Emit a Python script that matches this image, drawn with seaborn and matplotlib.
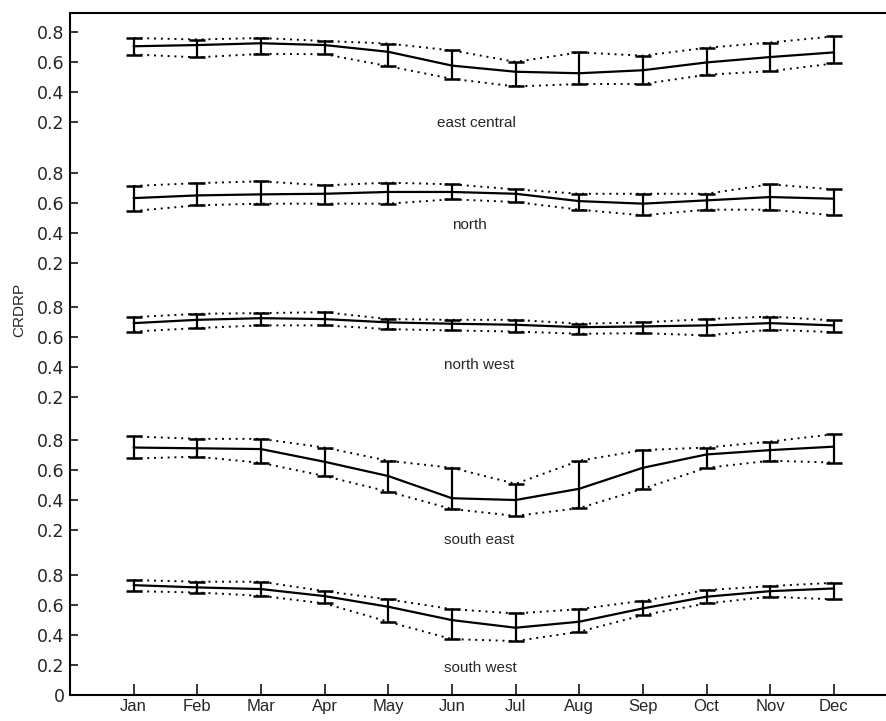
import numpy as np
import pandas as pd
import matplotlib
matplotlib.use("Agg")
import matplotlib.pyplot as plt
import seaborn as sns

months = ['Jan', 'Feb', 'Mar', 'Apr', 'May', 'Jun', 'Jul', 'Aug', 'Sep', 'Oct', 'Nov', 'Dec']
regions = ['east central', 'north', 'north west', 'south east', 'south west']

# mean CRDRP per month, and the lower / upper ends of the bars
ec_mean = [0.708, 0.716, 0.728, 0.716, 0.671, 0.579, 0.538, 0.528, 0.548, 0.600, 0.636, 0.667]
ec_low = [0.653, 0.634, 0.657, 0.655, 0.575, 0.491, 0.440, 0.456, 0.456, 0.518, 0.542, 0.593]
ec_high = [0.763, 0.753, 0.763, 0.743, 0.726, 0.680, 0.604, 0.667, 0.645, 0.698, 0.733, 0.774]

n_mean = [0.635, 0.653, 0.660, 0.664, 0.676, 0.676, 0.664, 0.615, 0.598, 0.620, 0.642, 0.631]
n_low = [0.549, 0.587, 0.598, 0.598, 0.598, 0.627, 0.609, 0.558, 0.520, 0.558, 0.558, 0.520]
n_high = [0.716, 0.735, 0.747, 0.720, 0.738, 0.727, 0.693, 0.664, 0.664, 0.664, 0.727, 0.693]

nw_mean = [0.691, 0.713, 0.724, 0.718, 0.696, 0.687, 0.680, 0.664, 0.669, 0.676, 0.691, 0.676]
nw_low = [0.635, 0.658, 0.676, 0.676, 0.651, 0.642, 0.635, 0.620, 0.624, 0.609, 0.647, 0.631]
nw_high = [0.731, 0.753, 0.758, 0.764, 0.718, 0.713, 0.713, 0.687, 0.696, 0.718, 0.735, 0.709]

se_mean = [0.751, 0.746, 0.741, 0.656, 0.561, 0.413, 0.401, 0.476, 0.616, 0.705, 0.734, 0.757]
se_low = [0.678, 0.690, 0.649, 0.561, 0.457, 0.341, 0.295, 0.347, 0.476, 0.616, 0.663, 0.651]
se_high = [0.825, 0.809, 0.809, 0.751, 0.663, 0.616, 0.509, 0.663, 0.734, 0.751, 0.791, 0.840]

sw_mean = [0.733, 0.718, 0.707, 0.660, 0.589, 0.500, 0.449, 0.489, 0.578, 0.656, 0.693, 0.711]
sw_low = [0.693, 0.684, 0.662, 0.611, 0.489, 0.373, 0.360, 0.422, 0.533, 0.611, 0.656, 0.638]
sw_high = [0.767, 0.756, 0.756, 0.693, 0.638, 0.573, 0.544, 0.573, 0.629, 0.700, 0.727, 0.749]

means = [ec_mean, n_mean, nw_mean, se_mean, sw_mean]
lows = [ec_low, n_low, nw_low, se_low, sw_low]
highs = [ec_high, n_high, nw_high, se_high, sw_high]

# vertical stacking of the panels inside one axes
offsets = [3.62, 2.68, 1.79, 0.9, 0.0]
label_pos = [(6.39, 0.195), (6.27, 0.453), (6.42, 0.41), (6.42, 0.133), (6.44, 0.18)]

sns.set_style("ticks")
plt.rcParams['font.family'] = ['DejaVu Sans']
narrow = ['Liberation Sans', 'DejaVu Sans']

fig = plt.figure(figsize=(8.86, 7.21), dpi=100)
ax = fig.add_axes([0.079, 0.036, 0.921, 0.946])

x = np.arange(1, 13)
rows = []
for r, m, lo, hi, off in zip(regions, means, lows, highs, offsets):
    for i in range(12):
        rows.append([r, x[i], m[i] + off, lo[i] + off, hi[i] + off])
df = pd.DataFrame(rows, columns=['region', 'month', 'mean', 'low', 'high'])

for r in regions:
    d = df[df.region == r]
    sns.lineplot(data=d, x='month', y='mean', ax=ax, color='black', lw=1.6)
    sns.lineplot(data=d, x='month', y='low', ax=ax, color='black', lw=1.4,
                 linestyle=(0, (1, 2.5)))
    sns.lineplot(data=d, x='month', y='high', ax=ax, color='black', lw=1.4,
                 linestyle=(0, (1, 2.5)))
    ax.errorbar(d['month'], d['mean'],
                yerr=[d['mean'] - d['low'], d['high'] - d['mean']],
                fmt='none', ecolor='black', elinewidth=1.6, capsize=6, capthick=1.8)

for r, off, (lx, ly) in zip(regions, offsets, label_pos):
    ax.text(lx, off + ly, r, ha='center', va='center', fontsize=11, family=narrow)

yt = [0.0]
ytl = ['0']
for off in offsets[::-1]:
    for v in [0.2, 0.4, 0.6, 0.8]:
        yt.append(off + v)
        ytl.append('%.1f' % v)
ax.set_yticks(yt)
ax.set_yticklabels(ytl, fontsize=12.5)
ax.set_xticks(x)
ax.set_xticklabels(months, fontsize=12, family=narrow)
ax.set_xlim(0, 12.82)
ax.set_ylim(0, 4.55)
ax.set_xlabel('')
ax.set_ylabel('')
ax.tick_params(axis='y', direction='in', length=6, width=1.3, pad=4)
ax.tick_params(axis='x', direction='in', length=8, width=1.3, pad=3)
for s in ['left', 'bottom', 'top']:
    ax.spines[s].set_linewidth(1.5)
    ax.spines[s].set_color('black')
ax.spines['right'].set_visible(False)

fig.text(0.022, 0.57, 'CRDRP', rotation=90, ha='center', va='center',
         fontsize=11, family=['Liberation Sans', 'DejaVu Sans'])

fig.savefig('out.png', dpi=100)
plt.close(fig)
